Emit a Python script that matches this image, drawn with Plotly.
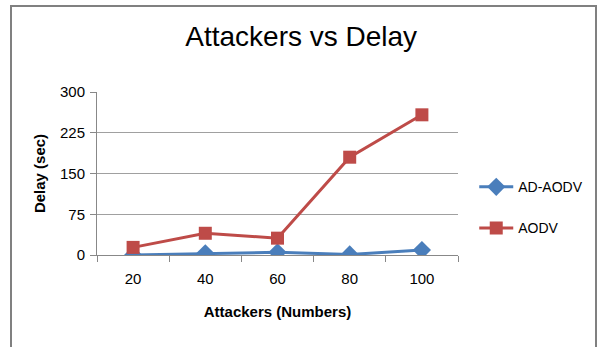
import plotly.graph_objects as go

attackers = ["20", "40", "60", "80", "100"]
ad_aodv = [0, 3, 5, 1, 9]
aodv = [14, 40, 31, 180, 258]
y_ticks = [0, 75, 150, 225, 300]

font_main = "Liberation Sans, Arial, sans-serif"

fig = go.Figure()
fig.add_trace(go.Scatter(
    x=attackers, y=ad_aodv, name="AD-AODV", mode="lines+markers",
    line=dict(color="#4A7EBB", width=3),
    marker=dict(symbol="diamond", size=14, color="#4A7EBB"),
    legendgroup="a",
))
fig.add_trace(go.Scatter(
    x=attackers, y=aodv, name="AODV", mode="lines+markers",
    line=dict(color="#BE4B48", width=3),
    marker=dict(symbol="square", size=13, color="#BE4B48"),
    legendgroup="b",
))

fig.update_layout(
    width=600, height=347,
    margin=dict(l=97, r=142, t=92, b=92, autoexpand=False),
    paper_bgcolor="white", plot_bgcolor="white",
    title=dict(text="Attackers vs Delay", x=0.502, xanchor="center", y=0.895, yanchor="middle",
               font=dict(family=font_main, size=28, color="black")),
    font=dict(family=font_main, size=14, color="black"),
    showlegend=True,
    legend=dict(x=1.045, y=0.29, xanchor="left", yanchor="middle",
                font=dict(size=14, color="black"), tracegroupgap=20,
                traceorder="grouped", itemwidth=34),
    xaxis=dict(
        type="category", tickson="boundaries", ticks="outside", ticklen=6,
        tickcolor="#888888", showline=True, linecolor="#888888", linewidth=1,
        showgrid=False, tickfont=dict(size=15), ticklabelstandoff=10,
        title=dict(text="<b>Attackers (Numbers)</b>", font=dict(size=15), standoff=20),
        range=[-0.5, 4.5], automargin=False,
    ),
    yaxis=dict(
        range=[0, 300], tickvals=y_ticks, ticks="outside", ticklen=6,
        tickcolor="#888888", showline=True, linecolor="#888888", linewidth=1,
        showgrid=True, gridcolor="#A0A0A0", gridwidth=1, zeroline=False,
        tickfont=dict(size=15), ticklabelstandoff=2, automargin=False,
        title=dict(text="<b>Delay (sec)</b>", font=dict(size=15), standoff=10),
    ),
    shapes=[dict(type="rect", xref="paper", yref="paper",
                 x0=-86/361, x1=499/361, y0=-0.6, y1=(255-6)/163,
                 line=dict(color="#808080", width=2), fillcolor="rgba(0,0,0,0)", layer="below")],
)
fig.write_html("out.html")
